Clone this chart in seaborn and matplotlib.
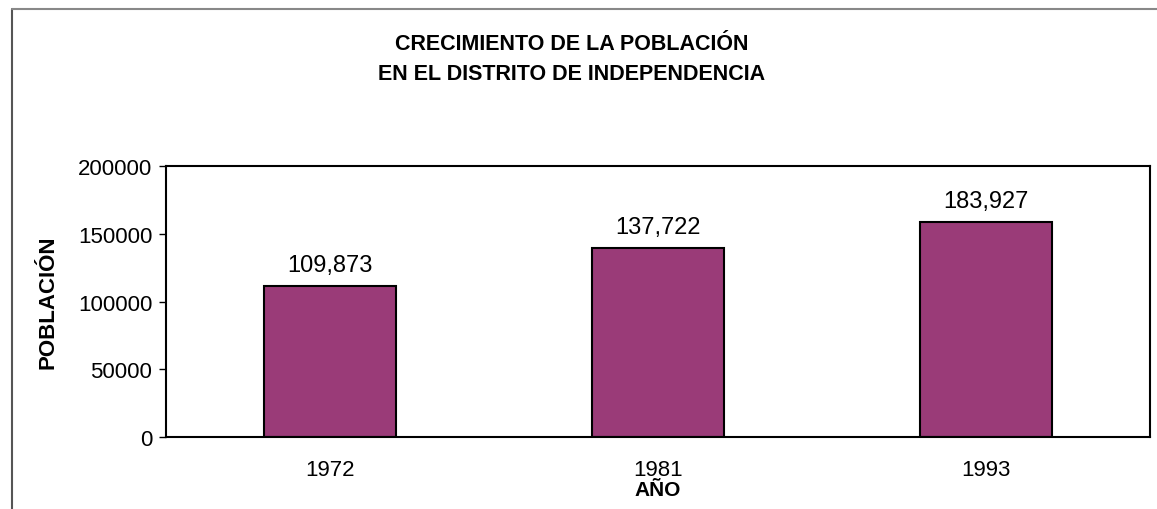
import matplotlib
matplotlib.use('Agg')
import matplotlib.pyplot as plt
import seaborn as sns
import pandas as pd
from matplotlib.lines import Line2D

# data (bar heights) and the printed labels
years = ['1972', '1981', '1993']
poblacion = [111400, 139500, 158900]
etiquetas = ['109,873', '137,722', '183,927']

df = pd.DataFrame({'anio': years, 'poblacion': poblacion})

sns.set_style('white')
plt.rcParams['font.family'] = ['Liberation Sans', 'DejaVu Sans']
plt.rcParams['text.color'] = 'black'
plt.rcParams['axes.labelcolor'] = 'black'
plt.rcParams['xtick.color'] = 'black'
plt.rcParams['ytick.color'] = 'black'

fig = plt.figure(figsize=(11.57, 5.10), dpi=100)
ax = fig.add_axes([0.1435, 0.141, 0.8505, 0.5315])

sns.barplot(data=df, x='anio', y='poblacion', color='#9a3b78', saturation=1,
            width=0.405, edgecolor='black', linewidth=1.5, ax=ax)

for i, (v, lab) in enumerate(zip(poblacion, etiquetas)):
    ax.annotate(lab, (i, v), xytext=(0, 7), textcoords='offset points',
                ha='center', va='bottom', fontsize=17)

ax.set_ylim(0, 200000)
ax.set_yticks([0, 50000, 100000, 150000, 200000])
ax.set_yticklabels(['0', '50000', '100000', '150000', '200000'], fontsize=16)
ax.tick_params(axis='y', length=5, width=1, direction='out', left=True, pad=5)
ax.tick_params(axis='x', length=0, labelsize=16, pad=16)

for s in ax.spines.values():
    s.set_visible(True)
    s.set_color('black')
    s.set_linewidth(1.5)

ax.set_xlabel('AÑO', fontsize=15, fontweight='bold', labelpad=0)
ax.set_ylabel('POBLACIÓN', fontsize=16, fontweight='bold', labelpad=14)

fig.text(0.494, 0.912, 'CRECIMIENTO DE LA POBLACIÓN', ha='center', va='center',
         fontsize=15.5, fontweight='bold')
fig.text(0.494, 0.853, 'EN EL DISTRITO DE INDEPENDENCIA', ha='center', va='center',
         fontsize=15.5, fontweight='bold')

# outer frame of the chart area
fig.add_artist(Line2D([12 / 1157, 12 / 1157], [0, 1 - 10 / 510], color='#555555', lw=1.5))
fig.add_artist(Line2D([12 / 1157, 1], [1 - 10 / 510, 1 - 10 / 510], color='#888888', lw=1.5))

fig.savefig('out.png', dpi=100)
